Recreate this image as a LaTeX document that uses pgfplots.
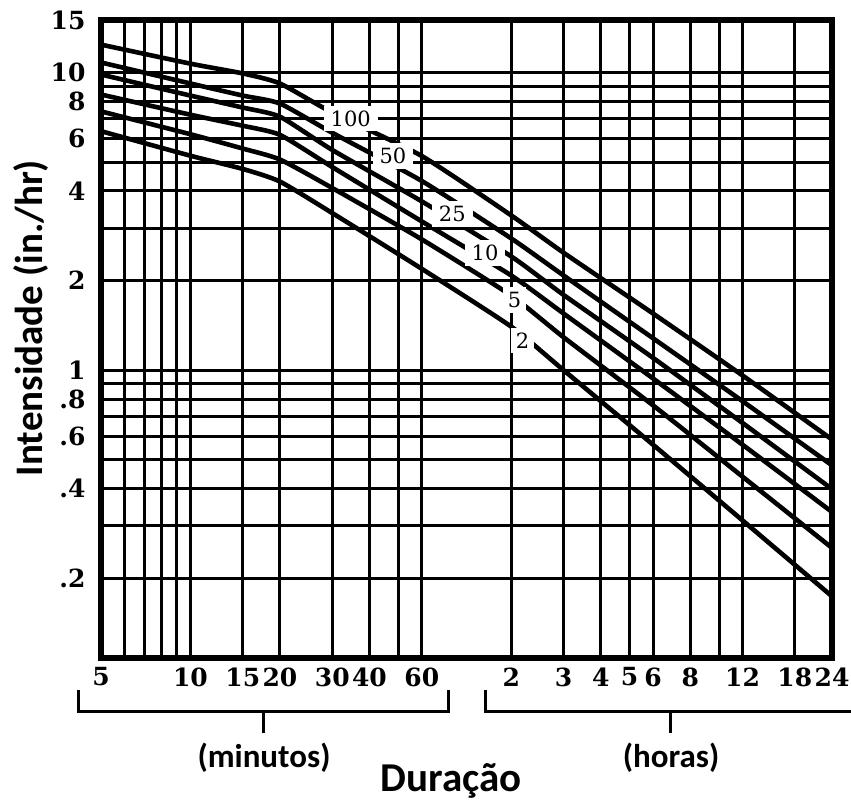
\documentclass[border=0pt]{standalone}
\usepackage{fontspec}
\setmainfont{DejaVu Serif}
\newfontfamily\carlito{Carlito}
\usepackage{pgfplots}
\usepackage{pgfplotstable}
\pgfplotsset{compat=1.18}
\tikzset{
  curve/.style={black, line width=4.6pt, smooth, tension=0.35},
  lbl/.style={fill=white, inner xsep=7pt, inner ysep=5pt, font=\fontsize{21}{21}\selectfont},
}

\pgfplotstableread{
t    r100  r50   r25   r10   r5    r2
5    12.4  10.8  9.84  8.43  7.40  6.35
10   10.7  9.18  8.36  7.21  6.20  5.25
15   9.92  8.36  7.62  6.62  5.55  4.74
20   9.18  7.86  7.10  6.17  5.10  4.30
30   7.33  6.27  5.49  4.81  4.09  3.37
60   5.24  4.32  3.69  3.16  2.75  2.19
120  3.31  2.77  2.41  2.08  1.78  1.40
180  2.48  2.08  1.79  1.55  1.29  1.00
360  1.55  1.28  1.10  0.938 0.762 0.562
720  0.96  0.787 0.665 0.562 0.439 0.313
1440 0.585 0.479 0.399 0.334 0.253 0.174
}\idf

\begin{document}
\begin{tikzpicture}[x=1pt,y=1pt]
\useasboundingbox (0,0) rectangle (851,803);
\begin{axis}[
  at={(101pt,145pt)}, anchor=south west,
  scale only axis, width=731pt, height=638pt,
  xmode=log, ymode=log,
  xmin=5, xmax=1440, ymin=0.108, ymax=15,
  xtick={5,10,15,20,30,40,60,120,180,240,300,360,480,720,1080,1440},
  xticklabels={5,10,15,20,30,40,60,2,3,4,5,6,8,12,18,24},
  minor xtick={6,7,8,9,50,600},
  ytick={0.2,0.4,0.6,0.8,1,2,4,6,8,10,15},
  yticklabels={.2,.4,.6,.8,1,2,4,6,8,10,15},
  minor ytick={0.3,0.5,0.7,0.9,3,5,7,9},
  grid=both,
  major grid style={black, line width=3pt},
  minor grid style={black, line width=3pt},
  major tick length=0pt, minor tick length=0pt,
  axis line style={line width=5.5pt},
  tick label style={font=\fontsize{25}{25}\selectfont\bfseries},
  xticklabel style={anchor=north, yshift=-6pt},
  yticklabel style={anchor=east, xshift=-12pt},
]
\addplot[curve] table[x=t,y=r100]{\idf};
\addplot[curve] table[x=t,y=r50]{\idf};
\addplot[curve] table[x=t,y=r25]{\idf};
\addplot[curve] table[x=t,y=r10]{\idf};
\addplot[curve] table[x=t,y=r5]{\idf};
\addplot[curve] table[x=t,y=r2]{\idf};
\node[lbl] at (axis cs:34.6,7.0) {100};
\node[lbl] at (axis cs:48,5.24) {50};
\node[lbl] at (axis cs:76,3.34) {25};
\node[lbl] at (axis cs:98,2.48) {10};
\node[lbl, inner xsep=5pt] at (axis cs:123,1.72) {5};
\node[lbl, inner xsep=5pt] at (axis cs:131,1.26) {2};
\end{axis}
\draw[line width=3pt, line join=miter] (78,113) -- (78,91) -- (448,91) -- (448,113);
\draw[line width=3pt] (263,91) -- (263,70);
\draw[line width=3pt, line join=miter] (485,113) -- (485,91) -- (851,91);
\draw[line width=3pt] (670,91) -- (670,70);
\node[font=\carlito\bfseries\fontsize{33}{33}\selectfont, anchor=base] at (264,36) {(minutos)};
\node[font=\carlito\bfseries\fontsize{33}{33}\selectfont, anchor=base] at (671,36) {(horas)};
\node[font=\carlito\bfseries\fontsize{41}{41}\selectfont, anchor=base] at (451,12) {Duração};
\node[font=\carlito\bfseries\fontsize{39}{39}\selectfont, anchor=base, rotate=90] at (42,485) {Intensidade (in./hr)};
\end{tikzpicture}
\end{document}
